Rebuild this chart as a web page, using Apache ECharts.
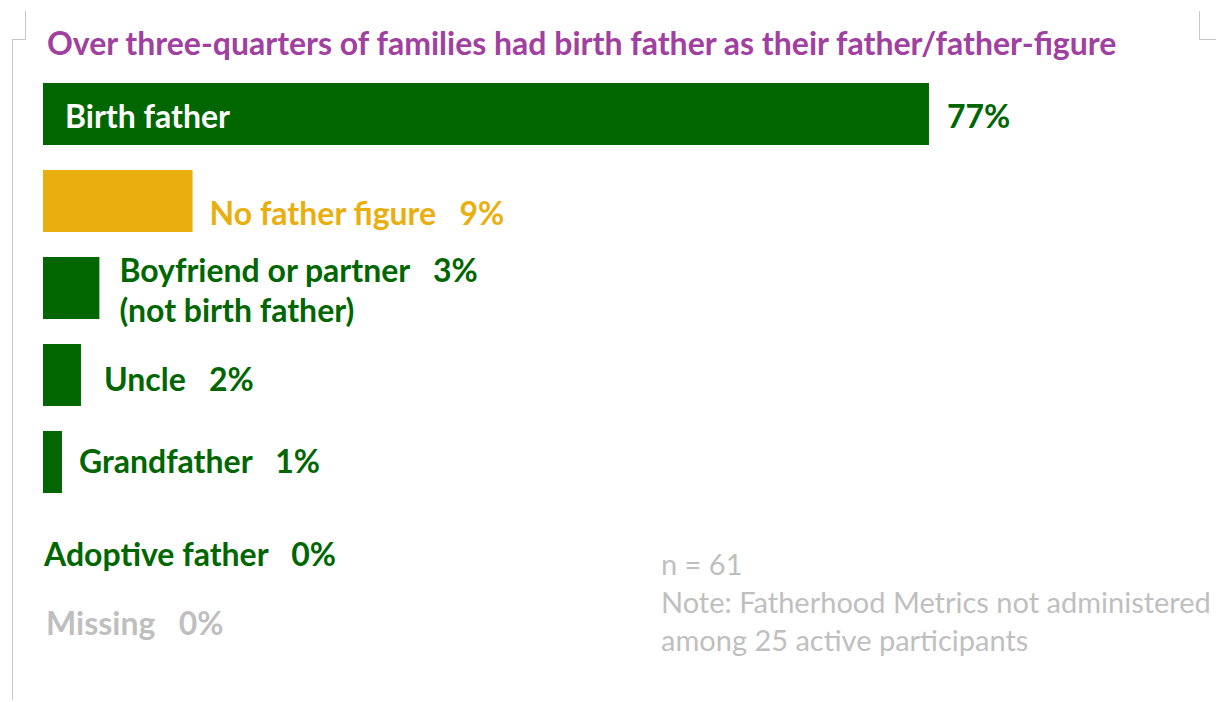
<!DOCTYPE html>
<html>
<head>
<meta charset="utf-8">
<script src="https://cdn.jsdelivr.net/npm/echarts@6/dist/echarts.min.js"></script>
<style>
html,body{margin:0;padding:0;background:#fff;}
#c{width:1216px;height:702px;}
</style>
</head>
<body>
<div id="c"></div>
<script>
// ---- data ----
const categories = ['Birth father', 'No father figure', 'Boyfriend or partner', 'Uncle', 'Grandfather', 'Adoptive father', 'Missing'];
const categoryLines = [['Birth father'], ['No father figure'], ['Boyfriend or partner', '(not birth father)'], ['Uncle'], ['Grandfather'], ['Adoptive father'], ['Missing']];
const percentLabels = ['77%', '9%', '3%', '2%', '1%', '0%', '0%'];
// bar lengths as drawn in the reference (percent scale)
const barValues = [77, 13, 4.9, 3.3, 1.65, 0, 0];
const titleText = 'Over three-quarters of families had birth father as their father/father-figure';
const noteLines = ['n = 61', 'Note: Fatherhood Metrics not administered', 'among 25 active participants'];

// ---- styles ----
const GREEN = '#006600';
const GOLD = '#E8AF0F';
const GRAY = '#BFBFBF';
const PURPLE = '#A040A0';
const FONT = 'Lato';
const barColors = [GREEN, GOLD, GREEN, GREEN, GREEN, GREEN, GRAY];
const textColors = [GREEN, GOLD, GREEN, GREEN, GREEN, GREEN, GRAY];
const labelOffsets = [[0,0],[0,11],[0,1],[0,3],[0,-2],[0,4],[0,-14]];
const labelDistances = [18, 17, 20, 23, 17, 1, 3];
const FS = 32;

const chart = echarts.init(document.getElementById('c'), null, {renderer: 'svg'});

const mainData = barValues.map((v, i) => {
  const item = {value: v, itemStyle: {color: barColors[i]}};
  if (i === 0) {
    item.label = {
      show: true, position: 'insideLeft', distance: 22, offset: [0, 1],
      formatter: categoryLines[i].join('\n'),
      color: '#fff', fontFamily: FONT, fontWeight: 'bold', fontSize: FS
    };
  } else {
    const lines = categoryLines[i].slice();
    lines[0] = lines[0] + '   ' + percentLabels[i];
    item.label = {
      show: true, position: 'right', distance: labelDistances[i], offset: labelOffsets[i],
      formatter: lines.join('\n'), lineHeight: 40,
      color: textColors[i], fontFamily: FONT, fontWeight: 'bold', fontSize: FS
    };
  }
  return item;
});

const pctData = barValues.map((v, i) => ({
  value: v,
  itemStyle: {color: 'rgba(0,0,0,0)'},
  label: i === 0 ? {
    show: true, position: 'right', distance: 18, offset: [0, 1],
    formatter: percentLabels[i],
    color: textColors[i], fontFamily: FONT, fontWeight: 'bold', fontSize: FS
  } : {show: false}
}));

const option = {
  backgroundColor: '#fff',
  animation: false,
  title: {
    text: titleText, left: 42, top: 21,
    textStyle: {color: PURPLE, fontFamily: FONT, fontWeight: 'bold', fontSize: FS}
  },
  grid: {left: 43, top: 70.5, width: 1150.6, height: 609, containLabel: false},
  xAxis: {type: 'value', min: 0, max: 100, show: false},
  yAxis: {type: 'category', data: categories, inverse: true, show: false},
  series: [
    {type: 'bar', data: mainData, barWidth: 62, silent: true},
    {type: 'bar', data: pctData, barWidth: 62, barGap: '-100%', silent: true, z: 3}
  ],
  graphic: [
    {type: 'polyline', shape: {points: [[25.5, 11], [25.5, 39.5], [12, 39.5]]}, style: {stroke: '#C8C8C8', lineWidth: 1, fill: null}},
    {type: 'line', shape: {x1: 12.5, y1: 39.5, x2: 12.5, y2: 700}, style: {stroke: '#C8C8C8', lineWidth: 1}},
    {type: 'polyline', shape: {points: [[1199.5, 11], [1199.5, 39.5], [1216, 39.5]]}, style: {stroke: '#C8C8C8', lineWidth: 1, fill: null}},
    ...noteLines.map((t, i) => ({
      type: 'text', left: 661, top: 549 + i * 38,
      style: {text: t, fill: GRAY, font: '29px ' + FONT}
    }))
  ]
};
chart.setOption(option);
</script>
</body>
</html>
